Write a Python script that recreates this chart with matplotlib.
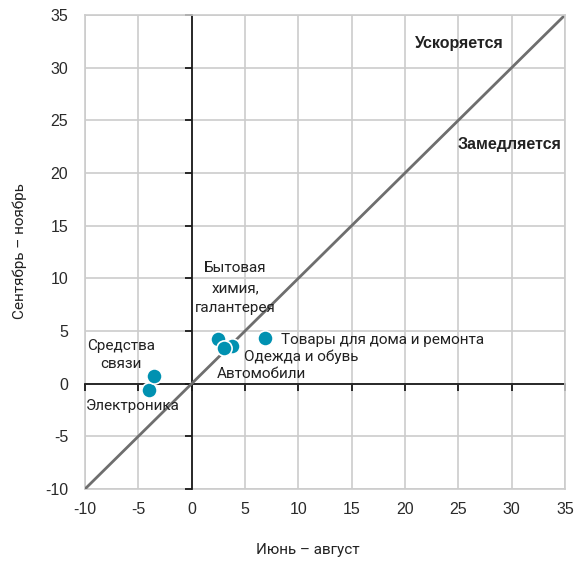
import matplotlib
matplotlib.use("Agg")
import matplotlib.pyplot as plt

categories = ["Электроника", "Средства связи", "Бытовая химия, галантерея",
              "Одежда и обувь", "Автомобили", "Товары для дома и ремонта"]
x_vals = [-4.0, -3.5, 2.5, 3.8, 3.0, 6.9]
y_vals = [-0.6, 0.7, 4.2, 3.6, 3.4, 4.3]
ticks = [-10, -5, 0, 5, 10, 15, 20, 25, 30, 35]

plt.rcParams["font.family"] = ["Liberation Sans", "DejaVu Sans"]
plt.rcParams["axes.unicode_minus"] = False
label_font = ["Roboto", "DejaVu Sans"]

fig = plt.figure(figsize=(5.79, 5.61), dpi=100)
ax = fig.add_axes([85/579, 1-489/561, 480/579, 474/561])
ax.set_xlim(-10, 35)
ax.set_ylim(-10, 35)
ax.set_xticks(ticks)
ax.set_yticks(ticks)
ax.grid(True, color="#cccccc", linewidth=1.2, zorder=0)
ax.set_axisbelow(True)

for s in ["top", "right"]:
    ax.spines[s].set_color("#cccccc")
    ax.spines[s].set_linewidth(1.2)
ax.spines["left"].set_position(("data", 0))
ax.spines["bottom"].set_position(("data", 0))
for s in ["left", "bottom"]:
    ax.spines[s].set_color("#1a1a1a")
    ax.spines[s].set_linewidth(1.3)
    ax.spines[s].set_zorder(1)
ax.tick_params(direction="out", length=5, width=1.3, color="#1a1a1a",
               labelleft=False, labelbottom=False)

# edge label axes
secx = ax.secondary_xaxis("bottom")
secx.set_xticks(ticks)
secx.tick_params(length=0, pad=9, labelsize=11.5, labelcolor="#2a2a2a")
secx.spines["bottom"].set_color("#cccccc")
secx.spines["bottom"].set_linewidth(1.2)
secy = ax.secondary_yaxis("left")
secy.set_yticks(ticks)
secy.tick_params(length=0, pad=12, labelsize=11.5, labelcolor="#2a2a2a")
secy.spines["left"].set_color("#cccccc")
secy.spines["left"].set_linewidth(1.2)

# diagonal
ax.plot(ticks, ticks, color="#6e6e6e", linewidth=2, zorder=2)

ax.scatter(x_vals, y_vals, s=120, color="#0091b1", edgecolors="white",
           linewidths=1.2, zorder=3)

txt = dict(fontsize=11, family=label_font, color="#222222", zorder=4)
ax.text(-5.5, -2.1, "Электроника", ha="center", va="center", **txt)
ax.text(-6.6, 2.7, "Средства\nсвязи", ha="center", va="center", linespacing=1.4, **txt)
ax.text(4.1, 9.05, "Бытовая\nхимия,\nгалантерея", ha="center", va="center", linespacing=1.55, **txt)
ax.text(4.9, 2.6, "Одежда и обувь", ha="left", va="center", **txt)
ax.text(2.35, 0.9, "Автомобили", ha="left", va="center", **txt)
ax.text(8.35, 4.1, "Товары для дома и ремонта", ha="left", va="center", **txt)

ax.text(25.1, 32.3, "Ускоряется", ha="center", va="center", fontsize=11.5,
        fontweight="bold", color="#222222")
ax.text(29.8, 22.7, "Замедляется", ha="center", va="center", fontsize=11.5,
        fontweight="bold", color="#222222")

fig.text(308/579, 1-550/561, "Июнь – август", ha="center", va="center",
         fontsize=11, family=label_font, color="#222222")
fig.text(20/579, 1-251/561, "Сентябрь – ноябрь", ha="center", va="center",
         rotation=90, fontsize=11, family=label_font, color="#222222")

fig.savefig("out.png", dpi=100)
